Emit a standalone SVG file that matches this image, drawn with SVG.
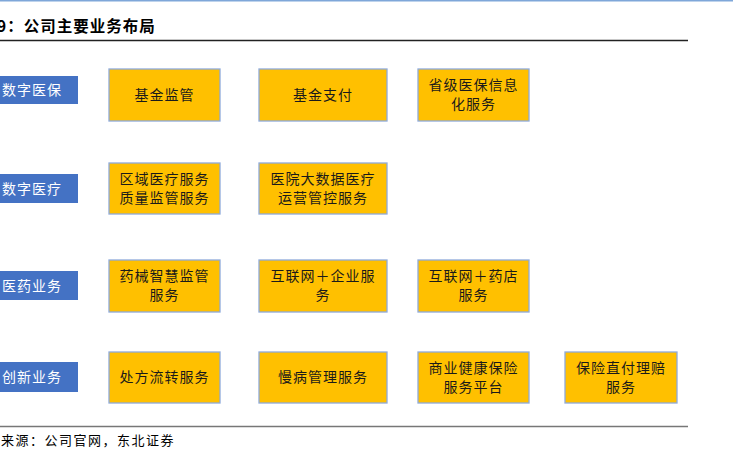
<svg xmlns="http://www.w3.org/2000/svg" width="733" height="451" viewBox="0 0 733 451">
<style>
.cat rect{fill:#4472c4}
.cat text{fill:#ffffff;font-family:"Noto Sans CJK SC",sans-serif;font-size:14px;letter-spacing:1px}
.svc rect{fill:#ffc000;stroke:#8eaadb;stroke-width:1.3}
.svc text{fill:#1a1a1a;font-family:"Noto Sans CJK SC",sans-serif;font-size:14px;letter-spacing:1px;text-anchor:middle}
.title{font-family:"Noto Sans CJK SC",sans-serif;font-size:15.5px;font-weight:bold;fill:#000;letter-spacing:1px}
.src{font-family:"Noto Sans CJK SC",sans-serif;font-size:13px;fill:#000;letter-spacing:1.5px}
</style>
<rect width="733" height="451" fill="#ffffff"/>
<line x1="0" y1="0.7" x2="733" y2="0.7" stroke="#7fa7d9" stroke-width="1.4"/>
<text class="title" x="-3" y="32">9：公司主要业务布局</text>
<line x1="0" y1="40.5" x2="688" y2="40.5" stroke="#222" stroke-width="1.3"/>
<line x1="0" y1="426.5" x2="688" y2="426.5" stroke="#777" stroke-width="1.3"/>
<text class="src" x="1" y="445">来源：公司官网，东北证券</text>
<g id="connectors"></g>
<g id="cat1" class="cat"><rect x="0" y="76" width="78" height="28"/><text x="2" y="95">数字医保</text></g>
<g id="cat2" class="cat"><rect x="0" y="174" width="78" height="29"/><text x="2" y="193.5">数字医疗</text></g>
<g id="cat3" class="cat"><rect x="0" y="271" width="78" height="29"/><text x="2" y="290.5">医药业务</text></g>
<g id="cat4" class="cat"><rect x="0" y="362" width="78" height="30"/><text x="2" y="382">创新业务</text></g>
<g id="s11" class="svc"><rect x="109" y="69" width="111" height="52"/><text x="164.5" y="100">基金监管</text></g>
<g id="s12" class="svc"><rect x="259" y="69" width="128" height="52"/><text x="323" y="100">基金支付</text></g>
<g id="s13" class="svc"><rect x="418" y="69" width="111" height="52"/><text x="473.5" y="90">省级医保信息</text><text x="473.5" y="109">化服务</text></g>
<g id="s21" class="svc"><rect x="109" y="163" width="111" height="51"/><text x="164.5" y="184">区域医疗服务</text><text x="164.5" y="203">质量监管服务</text></g>
<g id="s22" class="svc"><rect x="259" y="163" width="128" height="51"/><text x="323" y="184">医院大数据医疗</text><text x="323" y="203">运营管控服务</text></g>
<g id="s31" class="svc"><rect x="109" y="260" width="111" height="52"/><text x="164.5" y="281">药械智慧监管</text><text x="164.5" y="300">服务</text></g>
<g id="s32" class="svc"><rect x="259" y="260" width="128" height="52"/><text x="323" y="281">互联网＋企业服</text><text x="323" y="300">务</text></g>
<g id="s33" class="svc"><rect x="418" y="260" width="111" height="52"/><text x="473.5" y="281">互联网＋药店</text><text x="473.5" y="300">服务</text></g>
<g id="s41" class="svc"><rect x="109" y="352" width="111" height="51"/><text x="164.5" y="382">处方流转服务</text></g>
<g id="s42" class="svc"><rect x="259" y="352" width="128" height="51"/><text x="323" y="382">慢病管理服务</text></g>
<g id="s43" class="svc"><rect x="418" y="352" width="111" height="51"/><text x="473.5" y="373">商业健康保险</text><text x="473.5" y="392">服务平台</text></g>
<g id="s44" class="svc"><rect x="565" y="352" width="112" height="51"/><text x="621" y="373">保险直付理赔</text><text x="621" y="392">服务</text></g>
</svg>
